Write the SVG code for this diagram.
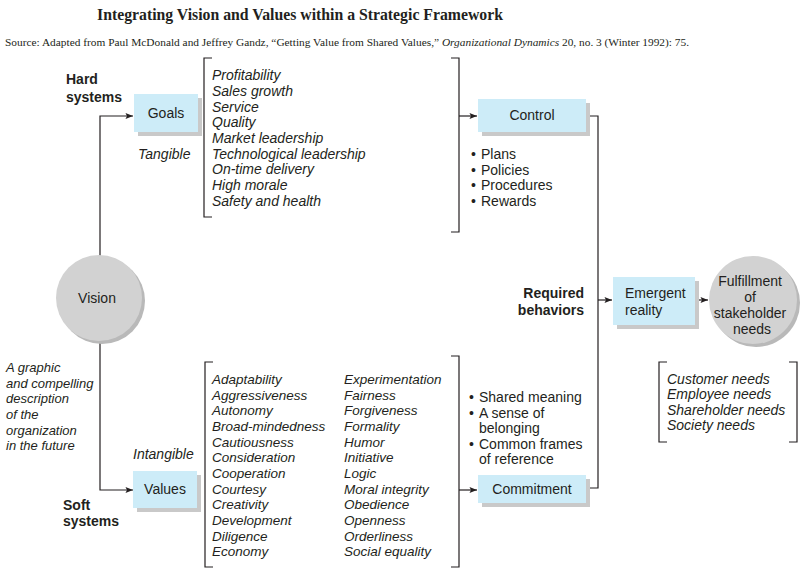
<svg xmlns="http://www.w3.org/2000/svg" width="807" height="575" viewBox="0 0 807 575">
<defs>
<style>
.t{font-family:"Liberation Sans",Arial,sans-serif;font-size:14px;fill:#231f20}
.s{font-size:13.5px}
.d{font-size:13px}
.i{font-style:italic}
.b{font-weight:bold}
.box{fill:#cdecf8}
.sh{fill:#c9c9c9}
.cir{fill:#d2d2d2}
.csh{fill:#b9b9b9}
.ln{fill:none;stroke:#231f20;stroke-width:1.2}
</style>
<marker id="ar" viewBox="0 0 10 8" refX="10" refY="4" markerWidth="8" markerHeight="6" markerUnits="userSpaceOnUse" orient="auto">
<path d="M0,0 L10,4 L0,8 L2,4 Z" fill="#231f20"/>
</marker>
</defs>
<rect width="807" height="575" fill="#fff"/>
<text x="97" y="20" font-family="Liberation Serif,serif" font-weight="bold" font-size="16" fill="#231f20" textLength="406" lengthAdjust="spacingAndGlyphs">Integrating Vision and Values within a Strategic Framework</text>
<text x="5" y="46" font-family="Liberation Serif,serif" font-size="11" fill="#231f20" textLength="684" lengthAdjust="spacingAndGlyphs">Source: Adapted from Paul McDonald and Jeffrey Gandz, “Getting Value from Shared Values,” <tspan font-style="italic">Organizational Dynamics</tspan> 20, no. 3 (Winter 1992): 75.</text>

<g id="connectors">
<path class="ln" d="M100,256 V116 H133" marker-end="url(#ar)"/>
<path class="ln" d="M100,341 V490 H133" marker-end="url(#ar)"/>
<path class="ln" d="M459,116 H477" marker-end="url(#ar)"/>
<path class="ln" d="M459,490 H477" marker-end="url(#ar)"/>
<path class="ln" d="M589,116 H598 V488 H589"/>
<path class="ln" d="M598,300 H612" marker-end="url(#ar)"/>
<path class="ln" d="M697,300 H708" marker-end="url(#ar)"/>
</g>

<g id="hard-systems">
<text class="t b" x="66" y="84">Hard</text>
<text class="t b" x="66" y="102">systems</text>
</g>

<g id="goals">
<rect class="sh" x="138" y="98" width="64" height="38"/>
<rect class="box" x="134" y="94" width="64" height="38"/>
<text class="t" x="166" y="118" text-anchor="middle">Goals</text>
<text class="t i" x="138" y="159">Tangible</text>
</g>

<g id="goals-list">
<path class="ln" d="M212,58 H204 V217 H212"/>
<path class="ln" d="M451,58 H459 V232 H451"/>
<text class="t i" x="212">
<tspan x="212" y="80">Profitability</tspan>
<tspan x="212" y="96">Sales growth</tspan>
<tspan x="212" y="111.5">Service</tspan>
<tspan x="212" y="127">Quality</tspan>
<tspan x="212" y="143">Market leadership</tspan>
<tspan x="212" y="159">Technological leadership</tspan>
<tspan x="212" y="174">On-time delivery</tspan>
<tspan x="212" y="190">High morale</tspan>
<tspan x="212" y="206">Safety and health</tspan>
</text>
</g>

<g id="control">
<rect class="sh" x="482" y="103" width="108" height="33"/>
<rect class="box" x="478" y="99" width="108" height="33"/>
<text class="t" x="532" y="120" text-anchor="middle">Control</text>
<text class="t"><tspan x="471" y="159">•</tspan><tspan x="481" y="159">Plans</tspan>
<tspan x="471" y="175">•</tspan><tspan x="481" y="175">Policies</tspan>
<tspan x="471" y="190">•</tspan><tspan x="481" y="190">Procedures</tspan>
<tspan x="471" y="206">•</tspan><tspan x="481" y="206">Rewards</tspan></text>
</g>

<g id="vision">
<circle class="csh" cx="102" cy="301" r="43"/>
<circle class="cir" cx="99" cy="298" r="43"/>
<text class="t" x="97" y="303" text-anchor="middle">Vision</text>
<text class="t d i">
<tspan x="6" y="372">A graphic</tspan>
<tspan x="6" y="388">and compelling</tspan>
<tspan x="6" y="403">description</tspan>
<tspan x="6" y="419">of the</tspan>
<tspan x="6" y="435">organization</tspan>
<tspan x="6" y="450">in the future</tspan>
</text>
</g>

<g id="values">
<text class="t i" x="133" y="459">Intangible</text>
<rect class="sh" x="137" y="475" width="64" height="37"/>
<rect class="box" x="133" y="471" width="64" height="37"/>
<text class="t" x="165" y="494" text-anchor="middle">Values</text>
</g>

<g id="soft-systems">
<text class="t b" x="63" y="510">Soft</text>
<text class="t b" x="63" y="526">systems</text>
</g>

<g id="values-list">
<path class="ln" d="M213,362 H205 V567 H213"/>
<path class="ln" d="M451,356 H459 V567 H451"/>
<text class="t s i">
<tspan x="212" y="384">Adaptability</tspan>
<tspan x="212" y="400">Aggressiveness</tspan>
<tspan x="212" y="415">Autonomy</tspan>
<tspan x="212" y="431">Broad-mindedness</tspan>
<tspan x="212" y="447">Cautiousness</tspan>
<tspan x="212" y="462">Consideration</tspan>
<tspan x="212" y="478">Cooperation</tspan>
<tspan x="212" y="494">Courtesy</tspan>
<tspan x="212" y="509">Creativity</tspan>
<tspan x="212" y="525">Development</tspan>
<tspan x="212" y="541">Diligence</tspan>
<tspan x="212" y="556">Economy</tspan>
</text>
<text class="t s i">
<tspan x="344" y="384">Experimentation</tspan>
<tspan x="344" y="400">Fairness</tspan>
<tspan x="344" y="415">Forgiveness</tspan>
<tspan x="344" y="431">Formality</tspan>
<tspan x="344" y="447">Humor</tspan>
<tspan x="344" y="462">Initiative</tspan>
<tspan x="344" y="478">Logic</tspan>
<tspan x="344" y="494">Moral integrity</tspan>
<tspan x="344" y="509">Obedience</tspan>
<tspan x="344" y="525">Openness</tspan>
<tspan x="344" y="541">Orderliness</tspan>
<tspan x="344" y="556">Social equality</tspan>
</text>
</g>

<g id="commitment">
<text class="t"><tspan x="469" y="402">•</tspan><tspan x="479" y="402">Shared meaning</tspan>
<tspan x="469" y="418">•</tspan><tspan x="479" y="418">A sense of</tspan>
<tspan x="479" y="433">belonging</tspan>
<tspan x="469" y="449">•</tspan><tspan x="479" y="449">Common frames</tspan>
<tspan x="479" y="464">of reference</tspan></text>
<rect class="sh" x="482" y="479" width="108" height="28"/>
<rect class="box" x="478" y="475" width="108" height="28"/>
<text class="t" x="532" y="494" text-anchor="middle">Commitment</text>
</g>

<g id="required-behaviors">
<text class="t b" x="584" y="298" text-anchor="end">Required</text>
<text class="t b" x="584" y="315" text-anchor="end">behaviors</text>
</g>

<g id="emergent-reality">
<rect class="sh" x="617" y="281" width="82" height="48"/>
<rect class="box" x="613" y="277" width="82" height="48"/>
<text class="t"><tspan x="625" y="298">Emergent</tspan><tspan x="625" y="315">reality</tspan></text>
</g>

<g id="fulfillment">
<circle class="csh" cx="756" cy="303" r="44"/>
<circle class="cir" cx="753" cy="300" r="44"/>
<text class="t" text-anchor="middle"><tspan x="752" y="286">Fulfillment</tspan>
<tspan x="752" y="302">of</tspan>
<tspan x="752" y="318">stakeholder</tspan>
<tspan x="752" y="334">needs</tspan></text>
</g>

<g id="stakeholder-needs">
<path class="ln" d="M667,362 H659 V442 H667"/>
<path class="ln" d="M789,362 H797 V442 H789"/>
<text class="t i"><tspan x="667" y="384">Customer needs</tspan>
<tspan x="667" y="399">Employee needs</tspan>
<tspan x="667" y="415">Shareholder needs</tspan>
<tspan x="667" y="430">Society needs</tspan></text>
</g>
</svg>
